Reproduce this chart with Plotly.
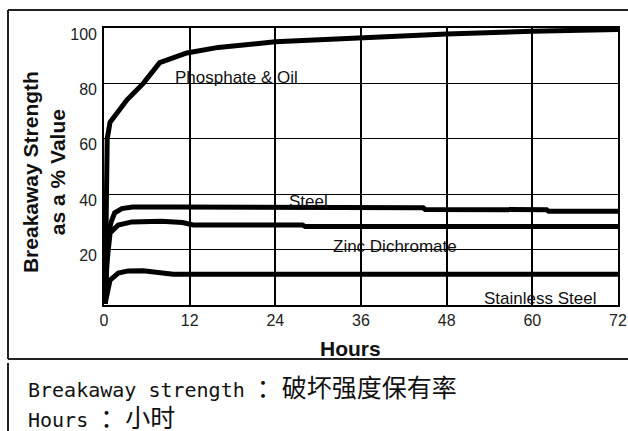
import plotly.graph_objects as go

# ---- data ----
phos_x = [0.15, 0.3, 0.45, 0.85, 2.0, 3.2, 5.5, 7.8, 11.6, 16, 24, 36, 48, 60, 72]
phos_y = [0.5, 40, 60, 66, 70, 74, 80, 87.5, 91, 93, 95, 96.5, 97.8, 98.8, 99.5]

steel_x = [0.15, 0.35, 0.55, 1.0, 1.5, 2.5, 4, 10, 20, 44.7, 45.0, 62.0, 62.3, 72]
steel_y = [0.5, 15, 24.5, 30, 33.3, 34.8, 35.4, 35.4, 35.2, 35.1, 34.5, 34.4, 33.8, 33.8]

zinc_x = [0.15, 0.4, 0.85, 2.0, 3.9, 8, 11, 12.5, 27.8, 28.2, 72]
zinc_y = [0.5, 15, 26, 28.9, 30, 30.2, 29.8, 28.9, 28.9, 28.3, 28.3]

ss_x = [0.15, 0.5, 0.85, 2.0, 3.4, 5.5, 8, 9.7, 72]
ss_y = [0.5, 6, 9, 11.5, 12.3, 12.4, 11.8, 11.1, 11.1]

x_ticks = [0, 12, 24, 36, 48, 60, 72]
y_ticks = [20, 40, 60, 80, 100]

labels = ["Phosphate & Oil", "Steel", "Zinc Dichromate", "Stainless Steel"]
label_x = [18.6, 28.7, 40.8, 61.1]
label_y = [82, 37.5, 21.1, 2.2]

FONT = "Arial, Liberation Sans, sans-serif"

fig = go.Figure()
for xs, ys in [(phos_x, phos_y), (steel_x, steel_y), (zinc_x, zinc_y), (ss_x, ss_y)]:
    fig.add_trace(go.Scatter(x=xs, y=ys, mode="lines",
                             line=dict(color="black", width=5),
                             showlegend=False, hoverinfo="skip"))

for t, lx, ly in zip(labels, label_x, label_y):
    fig.add_annotation(x=lx, y=ly, xref="x", yref="y", text=t, showarrow=False,
                       xanchor="center", yanchor="middle",
                       font=dict(family=FONT, size=17, color="#111"))

# axis titles
fig.add_annotation(x=0.4805, y=-0.1588, xref="paper", yref="paper", text="<b>Hours</b>",
                   showarrow=False, xanchor="center", yanchor="middle",
                   font=dict(family=FONT, size=21, color="#111"))
fig.add_annotation(x=-0.1167, y=0.48, xref="paper", yref="paper",
                   text="<b>Breakaway Strength<br>as a % Value</b>", textangle=-90,
                   showarrow=False, xanchor="center", yanchor="middle",
                   font=dict(family=FONT, size=21, color="#111"))

# note lines below the chart
CJK = '<span style="font-family:\'Noto Sans CJK SC\';font-size:25px">'
note_x = (26 - 104) / 514
fig.add_annotation(x=note_x, y=-0.2924, xref="paper", yref="paper",
                   text="Breakaway strength " + CJK + "：破坏强度保有率</span>",
                   showarrow=False, xanchor="left", yanchor="middle",
                   font=dict(family="DejaVu Sans Mono, monospace", size=20, color="#111"))
fig.add_annotation(x=note_x, y=-0.3990, xref="paper", yref="paper",
                   text="Hours " + CJK + "：小时</span>",
                   showarrow=False, xanchor="left", yanchor="middle",
                   font=dict(family="DejaVu Sans Mono, monospace", size=20, color="#111"))

# outer frame lines
lc = dict(color="#222", width=2)
xl = (8 - 104) / 514
yt = (305 - 10) / 277
yb = (305 - 359) / 277
fig.add_shape(type="line", xref="paper", yref="paper", x0=xl, x1=1.05, y0=yt, y1=yt, line=lc)
fig.add_shape(type="line", xref="paper", yref="paper", x0=xl, x1=xl, y0=yt, y1=yb, line=lc)
fig.add_shape(type="line", xref="paper", yref="paper", x0=xl, x1=1.05, y0=yb, y1=yb, line=lc)
fig.add_shape(type="line", xref="paper", yref="paper", x0=xl, x1=xl,
              y0=(305 - 363) / 277, y1=(305 - 440) / 277, line=lc)

fig.update_layout(
    width=628, height=431,
    margin=dict(l=104, r=10, t=28, b=126, autoexpand=False),
    paper_bgcolor="white", plot_bgcolor="white",
    font=dict(family=FONT, size=16, color="#222"),
)
fig.update_xaxes(range=[0, 72], tickvals=x_ticks, ticktext=[str(v) for v in x_ticks],
                 showgrid=True, gridcolor="black", gridwidth=1.6,
                 showline=True, linecolor="black", linewidth=1.6, mirror=True,
                 zeroline=False, ticks="", automargin=False,
                 tickfont=dict(size=16, color="#222"))
fig.update_yaxes(range=[0, 100], tickvals=y_ticks, ticktext=[str(v) for v in y_ticks],
                 showgrid=True, gridcolor="black", gridwidth=1.4,
                 showline=True, linecolor="black", linewidth=1.6, mirror=True,
                 zeroline=False, ticks="", automargin=False,
                 ticklabelshift=6, ticklabelstandoff=2,
                 tickfont=dict(size=16, color="#222"))

fig.write_html("out.html", config={"displayModeBar": False},
               post_script="document.body.style.margin='0px';document.body.style.overflow='hidden';")
